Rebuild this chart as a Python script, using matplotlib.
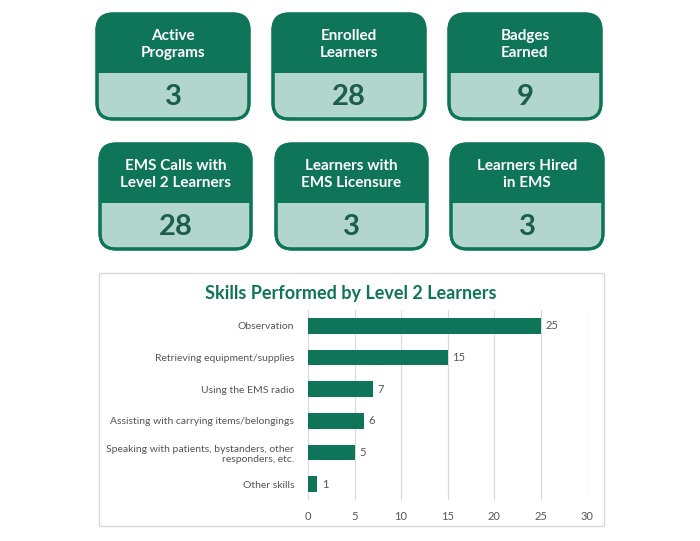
import matplotlib
matplotlib.use("Agg")
import matplotlib.pyplot as plt
from matplotlib.patches import FancyBboxPatch, Rectangle

card_titles = ["Active\nPrograms", "Enrolled\nLearners", "Badges\nEarned",
               "EMS Calls with\nLevel 2 Learners", "Learners with\nEMS Licensure", "Learners Hired\nin EMS"]
card_values = ["3", "28", "9", "28", "3", "3"]
skills = ["Observation", "Retrieving equipment/supplies", "Using the EMS radio",
          "Assisting with carrying items/belongings",
          "Speaking with patients, bystanders, other\nresponders, etc.", "Other skills"]
counts = [25, 15, 7, 6, 5, 1]
xticks = [0, 5, 10, 15, 20, 25, 30]

GREEN = "#0E7558"
LIGHT = "#B2D6CB"
DARK = "#1B5E4A"
FONT = "Lato"

W, H = 700, 541
fig = plt.figure(figsize=(7, 5.41), dpi=100)
ov = fig.add_axes([0, 0, 1, 1])
ov.set_xlim(0, W); ov.set_ylim(H, 0); ov.axis("off")

boxes = [(97, 14, 152, 105, 73), (273, 14, 152, 105, 73), (449, 14, 152, 105, 73),
         (100, 144, 151, 105, 203), (276, 144, 151, 105, 203), (451, 144, 152, 105, 203)]
for (x, y, w, h, split), t, v in zip(boxes, card_titles, card_values):
    base = FancyBboxPatch((x, y), w, h, boxstyle="round,pad=0,rounding_size=16",
                          facecolor=LIGHT, edgecolor=GREEN, linewidth=2.2, zorder=1)
    ov.add_patch(base)
    hdr = Rectangle((x - 2, y - 2), w + 4, split - y + 2, facecolor=GREEN, edgecolor="none", zorder=2)
    ov.add_patch(hdr)
    hdr.set_clip_path(base)
    edge = FancyBboxPatch((x, y), w, h, boxstyle="round,pad=0,rounding_size=16",
                          facecolor="none", edgecolor=GREEN, linewidth=2.2, zorder=3)
    ov.add_patch(edge)
    ov.text(x + w / 2, (y + split) / 2 + 1, t, ha="center", va="center", color="white",
            fontsize=11, fontweight="bold", family=FONT, linespacing=1.25, zorder=4)
    ov.text(x + w / 2, (split + y + h) / 2 + 1, v, ha="center", va="center", color=DARK,
            fontsize=21, fontweight="bold", family=FONT, zorder=4)

ov.add_patch(Rectangle((99, 273), 505, 253, facecolor="white", edgecolor="#D9D9D9", linewidth=1, zorder=1))
ov.text(351, 294, "Skills Performed by Level 2 Learners", ha="center", va="center",
        color=GREEN, fontsize=13, fontweight="bold", family=FONT, zorder=4)

ax = fig.add_axes([308 / W, 1 - 500 / H, (587 - 308) / W, 190 / H])
ypos = list(range(len(skills)))
ax.barh(ypos, counts, height=0.5, color=GREEN, zorder=3)
ax.set_ylim(len(skills) - 0.5, -0.5)
ax.set_xlim(0, 30)
ax.set_xticks(xticks)
ax.set_yticks(ypos)
ax.set_yticklabels(skills, fontsize=7.5, color="#555555", family=FONT)
ax.tick_params(axis="x", labelsize=8, colors="#555555", length=0, pad=8)
ax.tick_params(axis="y", length=0, pad=10)
for lab in ax.get_xticklabels():
    lab.set_family(FONT)
ax.grid(axis="x", color="#D9D9D9", linewidth=0.8, zorder=0)
for s in ax.spines.values():
    s.set_visible(False)
ax.patch.set_alpha(0)
for yv, c in zip(ypos, counts):
    ax.text(c + 0.5, yv, str(c), va="center", ha="left", fontsize=8, color="#555555", family=FONT)

fig.savefig("out.png", dpi=100)
